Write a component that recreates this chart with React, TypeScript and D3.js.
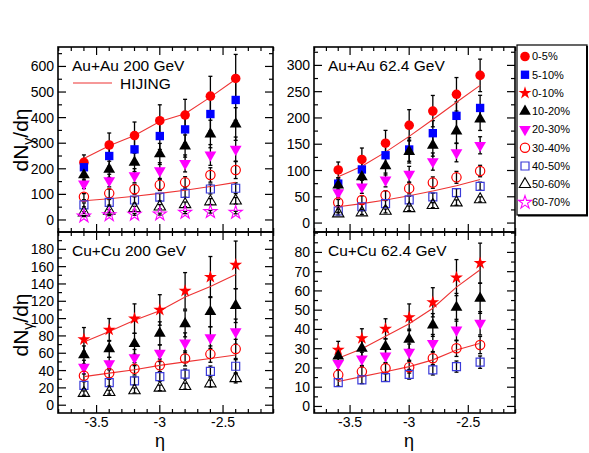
import React from "react";
import * as d3 from "d3";

// ---------- data ----------
const eta = [-3.6, -3.4, -3.2, -3.0, -2.8, -2.6, -2.4];
const etaTicks = [-3.5, -3, -2.5];

const legendLabels = ["0-5%", "5-10%", "0-10%", "10-20%", "20-30%", "30-40%", "40-50%", "50-60%", "60-70%"];

// Au+Au 200 GeV
const auau200_0_5 = [225, 293, 330, 388, 410, 484, 553];
const auau200_5_10 = [206, 250, 276, 328, 354, 414, 469];
const auau200_10_20 = [176, 198, 225, 258, 289, 336, 375];
const auau200_20_30 = [141, 154, 173, 193, 221, 254, 277];
const auau200_30_40 = [91, 104, 120, 137, 147, 176, 195];
const auau200_40_50 = [59, 69, 78, 89, 104, 121, 124];
const auau200_50_60 = [29, 35, 46, 52, 61, 72, 75];
const auau200_60_70 = [15, 20, 22, 23, 29, 32, 29];
const auau200_hijingCentral = [240, 290, 330, 385, 415, 480, 550];
const auau200_hijingPeripheral = [75, 83, 93, 104, 116, 131, 147];
const auau200_relErr = [0.13, 0.16, 0.16, 0.16, 0.15, 0.16, 0.17];
const auau200_yTicks = [0, 100, 200, 300, 400, 500, 600];

// Au+Au 62.4 GeV
const auau62_0_5 = [101, 121, 152, 186, 213, 245, 281];
const auau62_5_10 = [75, 102, 129, 140, 171, 204, 219];
const auau62_10_20 = [72, 88, 109, 136, 148, 175, 198];
const auau62_20_30 = [58, 69, 82, 93, 117, 134, 148];
const auau62_30_40 = [39, 44, 53, 66, 77, 87, 99];
const auau62_40_50 = [23, 31, 37, 44, 50, 58, 70];
const auau62_50_60 = [18, 20, 23, 28, 34, 39, 45];
const auau62_hijingCentral = [88, 108, 135, 165, 197, 230, 262];
const auau62_hijingPeripheral = [31, 37, 44, 52, 61, 71, 83];
const auau62_relErr = [0.15, 0.18, 0.16, 0.16, 0.14, 0.13, 0.11];
const auau62_yTicks = [0, 50, 100, 150, 200, 250, 300];

// Cu+Cu 200 GeV
const cucu200_0_10 = [76, 87, 100, 110, 132, 148, 162];
const cucu200_10_20 = [58, 65, 71, 83, 94, 108, 115];
const cucu200_20_30 = [44, 48, 55, 60, 72, 78, 85];
const cucu200_30_40 = [34, 37, 42, 46, 54, 59, 65];
const cucu200_40_50 = [23, 26, 28, 33, 36, 39, 45];
const cucu200_50_60 = [14, 15, 17, 20, 22, 25, 31];
const cucu200_hijingCentral = [73, 85, 98, 109, 125, 137, 151];
const cucu200_hijingPeripheral = [33, 37, 41, 46, 50, 54, 58];
const cucu200_relErr = [0.18, 0.15, 0.17, 0.16, 0.16, 0.16, 0.17];
const cucu200_yTicks = [0, 20, 40, 60, 80, 100, 120, 140, 160, 180];

// Cu+Cu 62.4 GeV
const cucu62_0_10 = [29.4, 35.4, 40.3, 46.3, 54.1, 66.9, 74.4];
const cucu62_10_20 = [26.2, 30.2, 31.1, 34.9, 42.3, 51.5, 56.2];
const cucu62_20_30 = [22.4, 24.7, 26.2, 28.2, 32.8, 39.7, 43.2];
const cucu62_30_40 = [16.4, 18.1, 19.8, 20.4, 25, 30.2, 31.9];
const cucu62_40_50 = [12.4, 13.8, 15, 16.7, 19, 20.7, 23];
const cucu62_hijingCentral = [25, 30, 36.5, 43, 51, 62, 71];
const cucu62_hijingPeripheral = [13, 15.5, 18, 20.7, 24.2, 29.3, 32.8];
const cucu62_relErr = [0.15, 0.14, 0.13, 0.15, 0.14, 0.14, 0.14];
const cucu62_yTicks = [0, 10, 20, 30, 40, 50, 60, 70, 80];

// ---------- styles ----------
const FONT = "'Liberation Sans', Arial, Helvetica, sans-serif";
const RED = "#ff0000";
const BLUE = "#0000ff";
const MAGENTA = "#ff00ff";
const OPENBLUE = "#3a3ad8";
const HIJING_RED = "#ee3333";

type MStyle = { type: d3.SymbolType; size: number; fill: string; stroke: string; rot?: boolean; sw?: number };
const MARKERS: Record<string, MStyle> = {
  "0-5%": { type: d3.symbolCircle, size: 72, fill: RED, stroke: "none" },
  "5-10%": { type: d3.symbolSquare, size: 70, fill: BLUE, stroke: "none" },
  "0-10%": { type: d3.symbolStar, size: 52, fill: RED, stroke: "none" },
  "10-20%": { type: d3.symbolTriangle, size: 60, fill: "#000", stroke: "none" },
  "20-30%": { type: d3.symbolTriangle, size: 60, fill: MAGENTA, stroke: "none", rot: true },
  "30-40%": { type: d3.symbolCircle, size: 68, fill: "none", stroke: RED, sw: 1.2 },
  "40-50%": { type: d3.symbolSquare, size: 64, fill: "none", stroke: OPENBLUE, sw: 1.2 },
  "50-60%": { type: d3.symbolTriangle, size: 56, fill: "none", stroke: "#000", sw: 1.1 },
  "60-70%": { type: d3.symbolStar, size: 54, fill: "none", stroke: MAGENTA, sw: 1.1 },
};

function Marker({ kind, x, y }: { kind: string; x: number; y: number }) {
  const s = MARKERS[kind];
  const d = d3.symbol().type(s.type).size(s.size)() as string;
  return (
    <path
      d={d}
      transform={`translate(${x},${y})${s.rot ? " rotate(180)" : ""}`}
      fill={s.fill}
      stroke={s.stroke}
      strokeWidth={s.sw || 0}
    />
  );
}

type PanelSpec = {
  x0: number; x1: number; y0: number; y1: number;
  yDomain: [number, number];
  yTicks: number[];
  yMinorStep: number;
  showXLabels: boolean;
  label: string;
  series: { kind: string; values: number[] }[];
  hijing: number[][];
  relErr: number[];
  hijingLegend?: boolean;
};

function Panel(p: PanelSpec) {
  const xs = d3.scaleLinear().domain([-3.805, -2.105]).range([p.x0, p.x1]);
  const ys = d3.scaleLinear().domain(p.yDomain).range([p.y1, p.y0]);
  const xMinor = d3.range(-3.8, -2.1 + 1e-6, 0.1).map((v) => Math.round(v * 10) / 10);
  const yMinor = d3
    .range(Math.ceil(p.yDomain[0] / p.yMinorStep) * p.yMinorStep, p.yDomain[1], p.yMinorStep);
  const line = d3
    .line<number>()
    .x((_, i) => xs(eta[i]))
    .y((v) => ys(v));
  const major = 8, minor = 4;
  return (
    <g>
      {/* error bars */}
      {p.series.map((s) =>
        s.values.map((v, i) => {
          const e = v * p.relErr[i];
          const x = xs(eta[i]);
          return (
            <g key={s.kind + "e" + i} stroke="#000" strokeWidth={1.3}>
              <line x1={x} x2={x} y1={ys(v - e)} y2={ys(v + e)} />
              <line x1={x - 2} x2={x + 2} y1={ys(v + e)} y2={ys(v + e)} />
              <line x1={x - 2} x2={x + 2} y1={ys(v - e)} y2={ys(v - e)} />
            </g>
          );
        })
      )}
      {/* HIJING */}
      {p.hijing.map((h, k) => (
        <path key={"h" + k} d={line(h) as string} fill="none" stroke={HIJING_RED} strokeWidth={1.1} />
      ))}
      {/* markers */}
      {p.series.map((s) =>
        s.values.map((v, i) => <Marker key={s.kind + "m" + i} kind={s.kind} x={xs(eta[i])} y={ys(v)} />)
      )}
      {/* frame */}
      <rect x={p.x0} y={p.y0} width={p.x1 - p.x0} height={p.y1 - p.y0} fill="none" stroke="#000" strokeWidth={1.6} />
      {/* x ticks */}
      {xMinor.map((v) => {
        const isMajor = etaTicks.some((t) => Math.abs(t - v) < 1e-6);
        const L = isMajor ? major : minor;
        const x = xs(v);
        return (
          <g key={"xt" + v} stroke="#000" strokeWidth={1.2}>
            <line x1={x} x2={x} y1={p.y1} y2={p.y1 - L} />
            <line x1={x} x2={x} y1={p.y0} y2={p.y0 + L} />
          </g>
        );
      })}
      {/* y ticks */}
      {yMinor.map((v) => {
        const isMajor = p.yTicks.some((t) => Math.abs(t - v) < 1e-6);
        const L = isMajor ? major : minor;
        const y = ys(v);
        return (
          <g key={"yt" + v} stroke="#000" strokeWidth={1.2}>
            <line x1={p.x0} x2={p.x0 + L} y1={y} y2={y} />
            <line x1={p.x1} x2={p.x1 - L} y1={y} y2={y} />
          </g>
        );
      })}
      {p.yTicks.map((v) => (
        <text key={"yl" + v} x={p.x0 - 4} y={ys(v)} dy="0.36em" textAnchor="end" fontSize={14} fontFamily={FONT}>
          {v}
        </text>
      ))}
      {p.showXLabels &&
        etaTicks.map((v) => (
          <text key={"xl" + v} x={xs(v)} y={p.y1 + 14} textAnchor="middle" fontSize={14} fontFamily={FONT}>
            {String(v)}
          </text>
        ))}
      <text x={p.x0 + 14} y={p.y0 + 24} fontSize={15.5} fontFamily={FONT}>
        {p.label}
      </text>
      {p.hijingLegend && (
        <g>
          <line x1={p.x0 + 15} x2={p.x0 + 54} y1={p.y0 + 36} y2={p.y0 + 36} stroke={HIJING_RED} strokeWidth={1.1} />
          <text x={p.x0 + 62} y={p.y0 + 42} fontSize={15.5} fontFamily={FONT}>
            HIJING
          </text>
        </g>
      )}
    </g>
  );
}

function YTitle({ x, y }: { x: number; y: number }) {
  return (
    <text transform={`translate(${x},${y}) rotate(-90)`} textAnchor="middle" fontSize={21} fontFamily={FONT}>
      dN
      <tspan fontSize={14} dy={5}>γ</tspan>
      <tspan dy={-5}>/dη</tspan>
    </text>
  );
}

export default function App() {
  const panels: PanelSpec[] = [
    {
      x0: 58, x1: 273, y0: 47, y1: 232, yDomain: [-47, 676], yTicks: auau200_yTicks, yMinorStep: 50,
      showXLabels: false, label: "Au+Au 200 GeV", hijingLegend: true, relErr: auau200_relErr,
      hijing: [auau200_hijingCentral, auau200_hijingPeripheral],
      series: [
        { kind: "0-5%", values: auau200_0_5 },
        { kind: "5-10%", values: auau200_5_10 },
        { kind: "10-20%", values: auau200_10_20 },
        { kind: "20-30%", values: auau200_20_30 },
        { kind: "30-40%", values: auau200_30_40 },
        { kind: "40-50%", values: auau200_40_50 },
        { kind: "50-60%", values: auau200_50_60 },
        { kind: "60-70%", values: auau200_60_70 },
      ],
    },
    {
      x0: 314, x1: 515, y0: 47, y1: 232, yDomain: [-17, 335], yTicks: auau62_yTicks, yMinorStep: 25,
      showXLabels: false, label: "Au+Au 62.4 GeV", relErr: auau62_relErr,
      hijing: [auau62_hijingCentral, auau62_hijingPeripheral],
      series: [
        { kind: "0-5%", values: auau62_0_5 },
        { kind: "5-10%", values: auau62_5_10 },
        { kind: "10-20%", values: auau62_10_20 },
        { kind: "20-30%", values: auau62_20_30 },
        { kind: "30-40%", values: auau62_30_40 },
        { kind: "40-50%", values: auau62_40_50 },
        { kind: "50-60%", values: auau62_50_60 },
      ],
    },
    {
      x0: 58, x1: 273, y0: 232, y1: 413, yDomain: [-9, 200], yTicks: cucu200_yTicks, yMinorStep: 10,
      showXLabels: true, label: "Cu+Cu 200 GeV", relErr: cucu200_relErr,
      hijing: [cucu200_hijingCentral, cucu200_hijingPeripheral],
      series: [
        { kind: "0-10%", values: cucu200_0_10 },
        { kind: "10-20%", values: cucu200_10_20 },
        { kind: "20-30%", values: cucu200_20_30 },
        { kind: "30-40%", values: cucu200_30_40 },
        { kind: "40-50%", values: cucu200_40_50 },
        { kind: "50-60%", values: cucu200_50_60 },
      ],
    },
    {
      x0: 314, x1: 515, y0: 232, y1: 413, yDomain: [-3.4, 90.6], yTicks: cucu62_yTicks, yMinorStep: 5,
      showXLabels: true, label: "Cu+Cu 62.4 GeV", relErr: cucu62_relErr,
      hijing: [cucu62_hijingCentral, cucu62_hijingPeripheral],
      series: [
        { kind: "0-10%", values: cucu62_0_10 },
        { kind: "10-20%", values: cucu62_10_20 },
        { kind: "20-30%", values: cucu62_20_30 },
        { kind: "30-40%", values: cucu62_30_40 },
        { kind: "40-50%", values: cucu62_40_50 },
      ],
    },
  ];

  const legendY = d3.scaleLinear().domain([0, legendLabels.length - 1]).range([56.5, 202.5]);

  return (
    <svg
      width={589}
      height={453}
      style={{ position: "absolute", left: 0, top: 0, background: "#fff" }}
    >
      <rect x={0} y={0} width={589} height={453} fill="#fff" />
      {panels.map((p, i) => (
        <Panel key={i} {...p} />
      ))}
      <YTitle x={28} y={140} />
      <YTitle x={28} y={325} />
      <text x={160} y={447} textAnchor="middle" fontSize={18} fontFamily={FONT}>η</text>
      <text x={409} y={447} textAnchor="middle" fontSize={18} fontFamily={FONT}>η</text>
      {/* legend */}
      <rect x={517} y={45} width={70} height={170} fill="#fff" stroke="#000" strokeWidth={1.2} />
      <line x1={587} x2={587} y1={46} y2={216} stroke="#000" strokeWidth={2} />
      <line x1={518} x2={588} y1={215.5} y2={215.5} stroke="#000" strokeWidth={2} />
      {legendLabels.map((l, i) => (
        <g key={l}>
          <Marker kind={l} x={525} y={legendY(i)} />
          <text x={532} y={legendY(i)} dy="0.36em" fontSize={11} fontFamily={FONT}>
            {l}
          </text>
        </g>
      ))}
    </svg>
  );
}
